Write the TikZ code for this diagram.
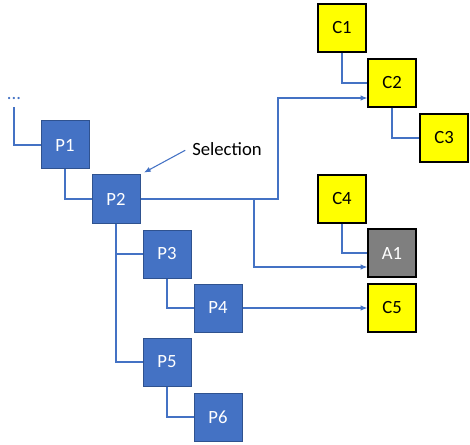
\documentclass[tikz,border=0pt]{standalone}
\usepackage{fontspec}
\setmainfont{Carlito}
\usetikzlibrary{arrows.meta}
\definecolor{procblue}{HTML}{4472C4}
\definecolor{procedge}{HTML}{2F528F}
\definecolor{consyellow}{HTML}{FFFF00}
\definecolor{actgray}{HTML}{7F7F7F}
\begin{document}
\begin{tikzpicture}[
        x=0.75pt, y=-0.75pt,
        every node/.style={font=\fontsize{14}{17}\selectfont},
        proc/.style={draw=procedge, line width=0.75pt, fill=procblue, text=white, rectangle, minimum size=36pt, inner sep=0pt},
        cons/.style={draw=black, line width=0.9pt, fill=consyellow, text=black, rectangle, minimum size=36pt, inner sep=0pt},
        act/.style={draw=black, line width=0.9pt, fill=actgray, text=white, rectangle, minimum size=36pt, inner sep=0pt},
        link/.style={draw=procblue, line width=0.8pt},
        arr/.style={link, -{Latex[length=5pt, width=4pt]}}
    ]
        \useasboundingbox (0,0) rectangle (470,445);

        % Processi
        \node[text=procblue, inner sep=1pt] (dots) at (14,99) {...};
        \node[proc] (P1) at (65,145) {P1};
        \node[proc] (P2) at (116,199) {P2};
        \node[proc] (P3) at (167,254) {P3};
        \node[proc] (P4) at (218,308) {P4};
        \node[proc] (P5) at (167,362) {P5};
        \node[proc] (P6) at (218,417) {P6};

        % Consumatori e attivita
        \node[cons] (C1) at (342,28) {C1};
        \node[cons] (C2) at (392,83) {C2};
        \node[cons] (C3) at (444,138) {C3};
        \node[cons] (C4) at (342,199) {C4};
        \node[act] (A1) at (392,253) {A1};
        \node[cons] (C5) at (392,308) {C5};

        % Etichetta della selezione
        \node (sel) at (227,149) {Selection};
        \draw[arr, shorten <=2pt, shorten >=3pt] (sel.west) -- (P2.north east);

        % Albero dei processi
        \draw[link] ([yshift=-4pt]dots.south) |- (P1.west);
        \draw[link] (P1.south) |- (P2.west);
        \draw[link] (P2.south) |- (P3.west);
        \draw[link] (P2.south) |- (P5.west);
        \draw[link] (P3.south) |- (P4.west);
        \draw[link] (P5.south) |- (P6.west);

        % Albero dei consumatori
        \draw[link] (C1.south) |- (C2.west);
        \draw[link] (C2.south) |- (C3.west);
        \draw[link] (C4.south) |- (A1.west);

        % Frecce verso i consumatori
        \coordinate (bus) at (278,199);
        \coordinate (tap) at (254,199);
        \draw[arr] (P2.east) -- (bus) |- ([yshift=-11.25pt]C2.west);
        \draw[arr] (tap) |- ([yshift=-10.5pt]A1.west);
        \draw[arr] (P4.east) -- (C5.west);

    \end{tikzpicture}
\end{document}
